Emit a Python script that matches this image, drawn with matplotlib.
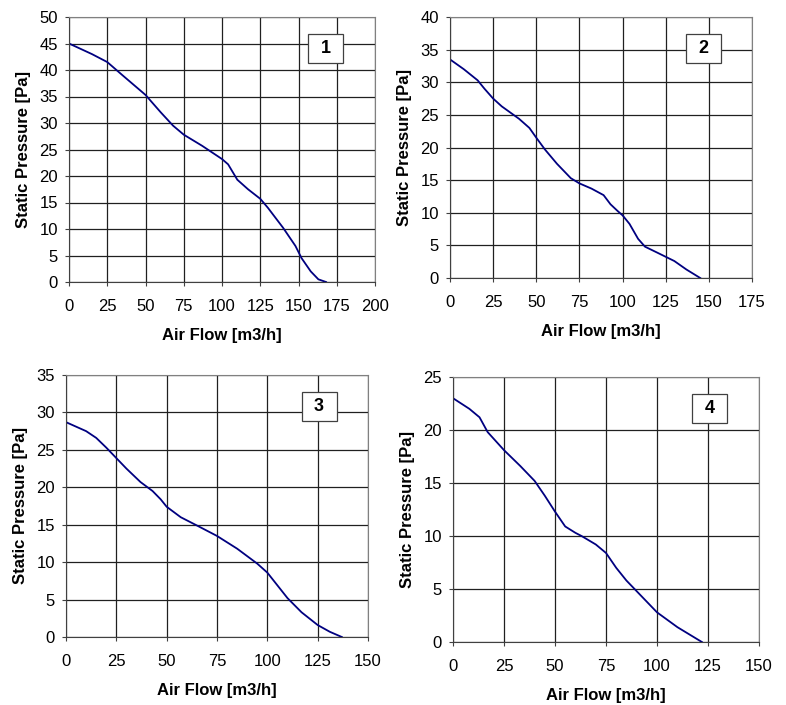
import matplotlib
matplotlib.use("Agg")
import matplotlib.pyplot as plt
from matplotlib.patches import Rectangle
import numpy as np

plt.rcParams['font.family'] = ['Liberation Sans', 'DejaVu Sans']

# Panel 1
flow1 = [0, 15, 25, 35, 50, 60, 68, 75, 87, 100, 104, 110, 117, 125, 130, 140, 148, 152, 158, 163, 168]
pres1 = [45, 43, 41.5, 39, 35.3, 32, 29.5, 27.8, 25.7, 23.2, 22.2, 19.3, 17.5, 15.7, 14, 10.2, 6.8, 4.5, 2, 0.5, 0]
# Panel 2
flow2 = [0, 8, 16, 20, 25, 30, 40, 46, 50, 55, 62, 70, 75, 82, 89, 93, 97, 100, 104, 109, 113, 120, 130, 137, 145]
pres2 = [33.5, 32, 30.3, 29, 27.5, 26.3, 24.4, 23, 21.5, 19.7, 17.5, 15.3, 14.5, 13.7, 12.7, 11.3, 10.3, 9.6, 8.3, 6, 4.8, 3.9, 2.6, 1.3, 0]
# Panel 3
flow3 = [0, 10, 15, 20, 25, 30, 37, 43, 47, 50, 57, 65, 75, 85, 95, 100, 105, 110, 117, 125, 131, 137]
pres3 = [28.7, 27.5, 26.6, 25.3, 23.9, 22.5, 20.7, 19.5, 18.4, 17.4, 16, 14.9, 13.5, 11.8, 9.8, 8.6, 6.9, 5.2, 3.3, 1.6, 0.7, 0]
# Panel 4
flow4 = [0, 8, 13, 17, 25, 33, 40, 45, 50, 55, 60, 63, 70, 75, 80, 85, 90, 100, 110, 122]
pres4 = [23, 22, 21.2, 19.8, 18.1, 16.6, 15.2, 13.8, 12.3, 10.9, 10.3, 10, 9.2, 8.4, 7, 5.8, 4.8, 2.8, 1.4, 0]

labels = ["1", "2", "3", "4"]
xmax = [200, 175, 150, 150]
ymax = [50, 40, 35, 25]
ystep = [5, 5, 5, 5]

fig = plt.figure(figsize=(7.86, 7.05), dpi=100)
W, H = 786, 705
# pixel boxes (left, top, right, bottom)
boxes = [(69, 17, 375, 282), (450, 17, 752, 278), (66, 375, 368, 637), (453, 377, 759, 642)]
data = [(flow1, pres1), (flow2, pres2), (flow3, pres3), (flow4, pres4)]

for i, (b, (fx, py)) in enumerate(zip(boxes, data)):
    l, t, r, btm = b
    aw, ah = r - l, btm - t
    ax = fig.add_axes([l / W, 1 - btm / H, aw / W, ah / H])
    ax.plot(fx, py, color='#000080', lw=1.3)
    ax.set_xlim(0, xmax[i])
    ax.set_ylim(0, ymax[i])
    ax.set_xticks(np.arange(0, xmax[i] + 1, 25))
    ax.set_yticks(np.arange(0, ymax[i] + 1, ystep[i]))
    ax.grid(True, color='#202020', lw=0.9)
    ax.set_axisbelow(True)
    for s in ['top', 'right']:
        ax.spines[s].set_color('#808080')
    for s in ['left', 'bottom']:
        ax.spines[s].set_color('#404040')
    ax.tick_params(direction='out', length=3, width=0.8, color='#404040',
                   labelsize=12)
    ax.tick_params(axis='x', pad=9.5)
    ax.tick_params(axis='y', pad=5)
    ax.set_xlabel('Air Flow [m3/h]', fontsize=12, fontweight='bold', labelpad=10)
    ax.set_ylabel('Static Pressure [Pa]', fontsize=12, fontweight='bold', labelpad=6)
    cx, cy = 0.838, 0.881
    bw, bh = 35 / aw, 29 / ah
    ax.add_patch(Rectangle((cx - bw / 2, cy - bh / 2), bw, bh, transform=ax.transAxes,
                           fc='white', ec='#404040', lw=0.9, zorder=5))
    ax.text(cx, cy, labels[i], transform=ax.transAxes, ha='center', va='center',
            fontsize=13, fontweight='bold', zorder=6)

fig.savefig('out.png', dpi=100)
